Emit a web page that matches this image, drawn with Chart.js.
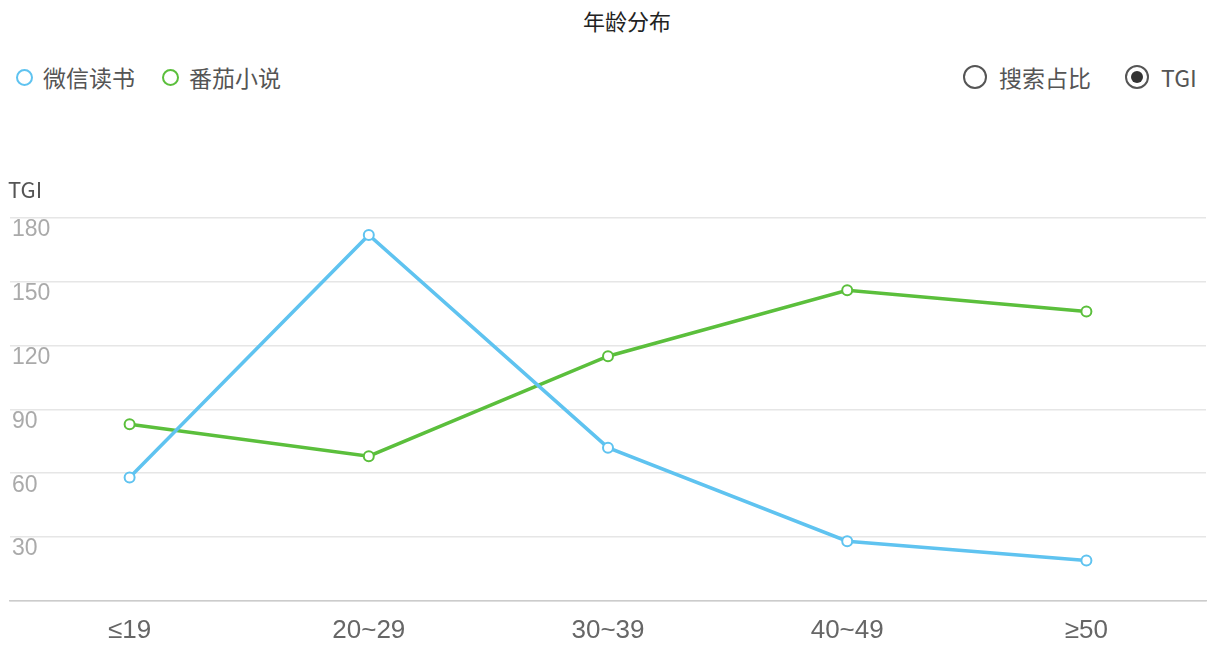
<!DOCTYPE html>
<html><head><meta charset="utf-8">
<script src="https://cdn.jsdelivr.net/npm/chart.js@4"></script>
<style>
body{margin:0;background:#fff;font-family:"Noto Sans CJK SC","Noto Sans",sans-serif;}
#wrap{position:relative;width:1214px;height:654px;}
#title{position:absolute;top:4px;left:20px;width:1214px;text-align:center;font-size:22px;color:#222;}
.lg{position:absolute;top:60px;font-size:23px;color:#555;display:flex;align-items:center;}
.dot{display:inline-block;width:17px;height:17px;border-radius:50%;border:2px solid;margin-right:10px;box-sizing:border-box;}
.radio{display:inline-block;width:24px;height:24px;border-radius:50%;border:2px solid #555;margin-right:12px;box-sizing:border-box;position:relative;}
.radio.on::after{content:"";position:absolute;left:4px;top:4px;width:12px;height:12px;border-radius:50%;background:#333;}
</style></head><body>
<div id="wrap">
<div id="title">年龄分布</div>
<div class="lg" style="left:16px"><span class="dot" style="border-color:#5fc3f0"></span>微信读书</div>
<div class="lg" style="left:162px"><span class="dot" style="border-color:#5bbf3c"></span>番茄小说</div>
<div class="lg" style="left:963px"><span class="radio"></span>搜索占比</div>
<div class="lg" style="left:1125px"><span class="radio on"></span>TGI</div>
<canvas id="c" width="1214" height="654" style="position:absolute;left:0;top:0"></canvas>
</div>
<script>
const categories=["≤19","20~29","30~39","40~49","≥50"];
const weixin=[58,172,72,28,19];
const fanqie=[83,68,115,146,136];
const yTicks=[0,30,60,90,120,150,180];
const titlePlugin={id:'tt',afterDraw(ch){const c=ch.ctx;c.save();c.font='22px "Noto Sans CJK SC",sans-serif';c.fillStyle='#555';c.textBaseline='middle';c.fillText('TGI',8,190);c.restore();}};
new Chart(document.getElementById('c'),{type:'line',
data:{labels:categories,datasets:[
{label:'微信读书',data:weixin,borderColor:'#5fc3f0',backgroundColor:'#fff',borderWidth:3.5,pointRadius:5,pointBorderWidth:2,tension:0},
{label:'番茄小说',data:fanqie,borderColor:'#5bbf3c',backgroundColor:'#fff',borderWidth:3.5,pointRadius:5,pointBorderWidth:2,tension:0}]},
options:{responsive:false,animation:false,layout:{padding:{top:218,left:6,right:8,bottom:2}},
plugins:{legend:{display:false},tooltip:{enabled:false}},
scales:{x:{offset:true,grid:{display:false},border:{color:'#ccc',width:1.5},ticks:{color:'#666',font:{size:26},padding:6}},
y:{min:0,max:180,afterBuildTicks(s){s.ticks=yTicks.map(v=>({value:v}));},grid:{color:'#e6e6e6',lineWidth:1.5,drawTicks:false},border:{display:false},
ticks:{mirror:true,labelOffset:12,padding:2,color:'#aaa',font:{size:23},callback:v=>v===0?'':v}}}},
plugins:[titlePlugin]});
</script></body></html>
